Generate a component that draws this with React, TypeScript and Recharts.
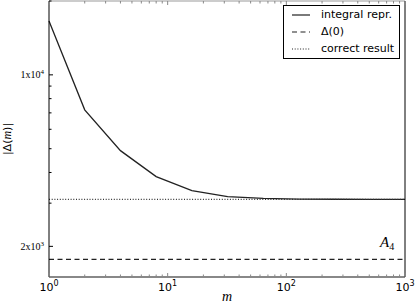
import React from "react";
import {
  LineChart,
  Line,
  XAxis,
  YAxis,
  ReferenceLine,
} from "recharts";

// values
const mValues = [1, 2, 4, 8, 16, 32, 64, 128, 256, 512, 1000];
const integralRepr = [16580, 7200, 4910, 3850, 3375, 3190, 3135, 3115, 3112, 3110, 3110];
const delta0 = 1770;
const correctResult = 3110;

const xTicks = [
  1, 2, 3, 4, 5, 6, 7, 8, 9, 10, 20, 30, 40, 50, 60, 70, 80, 90, 100, 200, 300,
  400, 500, 600, 700, 800, 900, 1000,
];
const xMajor: Record<number, string> = { 1: "0", 10: "1", 100: "2", 1000: "3" };
const yTicks = [2000, 3000, 4000, 5000, 6000, 7000, 8000, 9000, 10000, 20000];
const yMajor: Record<number, string[]> = { 2000: ["2x10", "3"], 10000: ["1x10", "4"] };

const legendItems = [
  { key: "integral", name: "integral repr.", dash: undefined as string | undefined },
  { key: "delta0", name: "\u0394(0)", dash: "5 3.5" },
  { key: "correct", name: "correct result", dash: "1 1.7" },
];

const data = mValues.map((m, i) => ({
  m,
  integral: integralRepr[i],
  delta0: delta0,
  correct: correctResult,
}));

const serif = "'Liberation Serif', 'DejaVu Serif', serif";
const sans = "'DejaVu Sans', sans-serif";

const YTickLeft = (props: any) => {
  const { x, y, payload } = props;
  const lab = yMajor[payload.value];
  return (
    <g>
      <line x1={x} y1={y} x2={x + (lab ? 4 : 2.5)} y2={y} stroke="#000" />
      {lab && (
        <text x={x - 5} y={y + 3.5} textAnchor="end" fontFamily={serif} fontSize={10} fill="#000">
          {lab[0]}
          <tspan dy={-4} fontSize={7}>{lab[1]}</tspan>
        </text>
      )}
    </g>
  );
};

const YTickRight = (props: any) => {
  const { x, y, payload } = props;
  const lab = yMajor[payload.value];
  return <line x1={x} y1={y} x2={x - (lab ? 4 : 2.5)} y2={y} stroke="#000" />;
};

const XTickBottom = (props: any) => {
  const { x, y, payload } = props;
  const sup = xMajor[payload.value];
  return (
    <g>
      <line x1={x} y1={y} x2={x} y2={y - (sup ? 4 : 2.5)} stroke="#888" />
      {sup && (
        <text x={x} y={y + 14} textAnchor="middle" fontFamily={sans} fontSize={11} fill="#000">
          10
          <tspan dy={-5} fontSize={8}>{sup}</tspan>
        </text>
      )}
    </g>
  );
};

const XTickTop = (props: any) => {
  const { x, y, payload } = props;
  const major = xMajor[payload.value] !== undefined;
  return <line x1={x} y1={y} x2={x} y2={y + (major ? 4 : 2.5)} stroke="#888" />;
};

const LegendBox = () => (
  <div
    style={{
      position: "absolute",
      left: 283,
      top: 5,
      boxSizing: "border-box",
      width: 117,
      border: "1px solid #000",
      background: "#fff",
      padding: "0px 4px 1px 8px",
      fontFamily: sans,
      fontSize: 11,
      lineHeight: "17px",
    }}
  >
    {legendItems.map((it) => (
      <div key={it.key} style={{ display: "flex", alignItems: "center" }}>
        <svg width={29} height={10} style={{ flex: "none" }}>
          <line x1={0} y1={5} x2={18} y2={5} stroke="#222" strokeWidth={1.2} strokeDasharray={it.dash} />
        </svg>
        <span style={{ whiteSpace: "nowrap" }}>{it.name}</span>
      </div>
    ))}
  </div>
);

const A4Label = (props: any) => {
  const { viewBox } = props;
  return (
    <text x={viewBox.x + viewBox.width - 25} y={viewBox.y + 1} fontFamily={serif} fontStyle="italic" fontSize={15} fill="#000">
      A
      <tspan dy={3} fontSize={10} fontStyle="normal">4</tspan>
    </text>
  );
};

const YLabel = (props: any) => {
  const { viewBox } = props;
  const cx = viewBox.x + 11;
  const cy = viewBox.y + viewBox.height / 2;
  return (
    <text x={cx} y={cy} transform={`rotate(-90 ${cx} ${cy})`} textAnchor="middle" fontFamily={sans} fontSize={11} fill="#000">
      |{"\u0394"}(<tspan fontFamily={serif} fontStyle="italic" fontSize={12}>m</tspan>)|
    </text>
  );
};

export default function App() {
  return (
    <div style={{ position: "absolute", left: 0, top: 0, width: 416, height: 303 }}>
      <LineChart width={416} height={303} data={data} margin={{ top: 0, right: 0, bottom: 0, left: 0 }}>
        <XAxis
          dataKey="m"
          type="number"
          scale="log"
          domain={[1, 1000]}
          ticks={xTicks}
          interval={0}
          tick={<XTickBottom />}
          tickSize={0}
          tickMargin={0}
          tickLine={false}
          axisLine={{ stroke: "#888", strokeWidth: 2 }}
          height={26}
          label={{ value: "m", position: "insideBottom", offset: 2, style: { fontFamily: serif, fontStyle: "italic", fontSize: 14, fill: "#000" } }}
        />
        <XAxis
          xAxisId="top"
          orientation="top"
          dataKey="m"
          type="number"
          scale="log"
          domain={[1, 1000]}
          ticks={xTicks}
          interval={0}
          tick={<XTickTop />}
          tickSize={0}
          tickMargin={0}
          tickLine={false}
          axisLine={{ stroke: "#999" }}
          height={1}
        />
        <YAxis
          type="number"
          scale="log"
          domain={[1500, 20000]}
          ticks={yTicks}
          interval={0}
          tick={<YTickLeft />}
          tickSize={0}
          tickMargin={0}
          tickLine={false}
          axisLine={{ stroke: "#000" }}
          width={49}
          label={<YLabel />}
        />
        <YAxis
          yAxisId="right"
          orientation="right"
          type="number"
          scale="log"
          domain={[1500, 20000]}
          ticks={yTicks}
          interval={0}
          tick={<YTickRight />}
          tickSize={0}
          tickMargin={0}
          tickLine={false}
          axisLine={{ stroke: "#000" }}
          width={11}
        />
        <Line dataKey="integral" name="integral repr." stroke="#222" strokeWidth={1.3} dot={false} isAnimationActive={false} />
        <Line dataKey="delta0" name={"\u0394(0)"} stroke="#222" strokeWidth={1.2} strokeDasharray="5 3.5" dot={false} isAnimationActive={false} />
        <Line dataKey="correct" name="correct result" stroke="#333" strokeWidth={1.2} strokeDasharray="1 1.7" dot={false} isAnimationActive={false} />
        <ReferenceLine y={2000} stroke="none" label={<A4Label />} />
      </LineChart>
      <LegendBox />
    </div>
  );
}
